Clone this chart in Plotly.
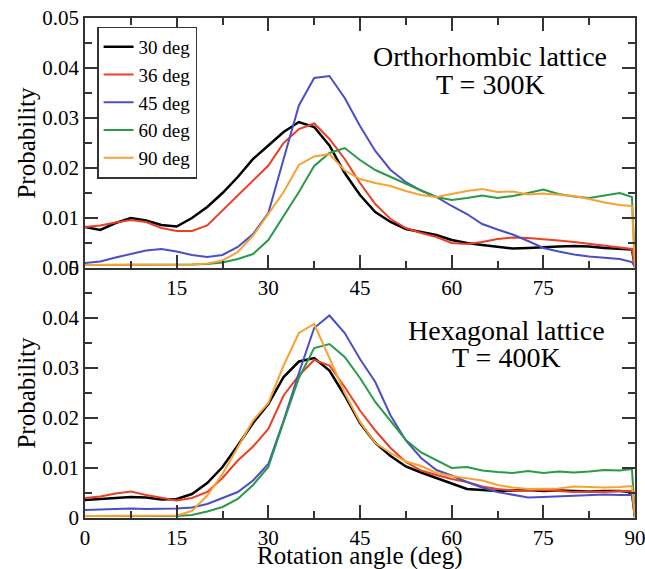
import plotly.graph_objects as go

# ---------------- data ----------------
angle = [0, 2.5, 5, 7.5, 10, 12.5, 15, 17.5, 20, 22.5, 25, 27.5, 30, 32.5, 35, 37.5,
         40, 42.5, 45, 47.5, 50, 52.5, 55, 57.5, 60, 62.5, 65, 67.5, 70, 72.5, 75,
         77.5, 80, 82.5, 85, 87.5, 89.5, 90]

series_names = ["30 deg", "36 deg", "45 deg", "60 deg", "90 deg"]

# Orthorhombic lattice, T = 300K
ortho_30 = [0.0082, 0.0076, 0.0090, 0.0100, 0.0095, 0.0086, 0.0083, 0.0100, 0.0122, 0.0150,
            0.0182, 0.0218, 0.0245, 0.0272, 0.0292, 0.0282, 0.0245, 0.0190, 0.0146, 0.0112,
            0.0092, 0.0078, 0.0072, 0.0066, 0.0056, 0.0050, 0.0046, 0.0042, 0.0039, 0.0040,
            0.0042, 0.0043, 0.0044, 0.0043, 0.0040, 0.0038, 0.0037, 0.0002]
ortho_36 = [0.0082, 0.0085, 0.0091, 0.0096, 0.0092, 0.0080, 0.0074, 0.0074, 0.0085, 0.0115,
            0.0146, 0.0176, 0.0205, 0.0250, 0.0278, 0.0289, 0.0258, 0.0218, 0.0170, 0.0128,
            0.0098, 0.0080, 0.0070, 0.0062, 0.0050, 0.0048, 0.0052, 0.0058, 0.0061, 0.0060,
            0.0058, 0.0055, 0.0052, 0.0048, 0.0044, 0.0040, 0.0038, 0.0002]
ortho_45 = [0.0010, 0.0013, 0.0021, 0.0028, 0.0035, 0.0038, 0.0033, 0.0026, 0.0022, 0.0026,
            0.0042, 0.0068, 0.0110, 0.0218, 0.0325, 0.0380, 0.0384, 0.0340, 0.0284, 0.0234,
            0.0196, 0.0172, 0.0155, 0.0142, 0.0124, 0.0108, 0.0088, 0.0077, 0.0067, 0.0054,
            0.0040, 0.0033, 0.0027, 0.0023, 0.0021, 0.0018, 0.0012, 0.0002]
ortho_60 = [0.0006, 0.0006, 0.0006, 0.0006, 0.0006, 0.0006, 0.0006, 0.0007, 0.0008, 0.0011,
            0.0018, 0.0028, 0.0056, 0.0105, 0.0152, 0.0204, 0.0230, 0.0240, 0.0216, 0.0196,
            0.0182, 0.0168, 0.0155, 0.0142, 0.0136, 0.0140, 0.0145, 0.0140, 0.0144, 0.0150,
            0.0157, 0.0148, 0.0143, 0.0140, 0.0145, 0.0150, 0.0142, 0.0002]
ortho_90 = [0.0006, 0.0006, 0.0006, 0.0006, 0.0006, 0.0006, 0.0006, 0.0007, 0.0009, 0.0015,
            0.0032, 0.0065, 0.0108, 0.0152, 0.0206, 0.0223, 0.0228, 0.0195, 0.0178, 0.0170,
            0.0164, 0.0154, 0.0146, 0.0142, 0.0148, 0.0154, 0.0158, 0.0152, 0.0153, 0.0147,
            0.0149, 0.0146, 0.0144, 0.0138, 0.0131, 0.0126, 0.0124, 0.0002]

# Hexagonal lattice, T = 400K
hexa_30 = [0.0036, 0.0038, 0.0041, 0.0042, 0.0041, 0.0037, 0.0038, 0.0048, 0.0070, 0.0102,
           0.0145, 0.0190, 0.0228, 0.0282, 0.0313, 0.0320, 0.0295, 0.0245, 0.0190, 0.0150,
           0.0124, 0.0103, 0.0091, 0.0080, 0.0068, 0.0058, 0.0056, 0.0054, 0.0055, 0.0056,
           0.0054, 0.0055, 0.0054, 0.0053, 0.0054, 0.0054, 0.0052, 0.0002]
hexa_36 = [0.0040, 0.0043, 0.0049, 0.0053, 0.0046, 0.0040, 0.0035, 0.0040, 0.0052, 0.0080,
           0.0115, 0.0143, 0.0178, 0.0245, 0.0285, 0.0316, 0.0305, 0.0262, 0.0215, 0.0175,
           0.0140, 0.0112, 0.0095, 0.0086, 0.0078, 0.0072, 0.0063, 0.0058, 0.0055, 0.0055,
           0.0056, 0.0054, 0.0052, 0.0053, 0.0052, 0.0054, 0.0054, 0.0002]
hexa_45 = [0.0016, 0.0017, 0.0018, 0.0019, 0.0018, 0.0018, 0.0019, 0.0021, 0.0028, 0.0040,
           0.0052, 0.0075, 0.0108, 0.0195, 0.0290, 0.0380, 0.0405, 0.0370, 0.0318, 0.0272,
           0.0205, 0.0155, 0.0120, 0.0096, 0.0085, 0.0072, 0.0061, 0.0052, 0.0047, 0.0041,
           0.0042, 0.0043, 0.0044, 0.0046, 0.0047, 0.0046, 0.0046, 0.0002]
hexa_60 = [0.0004, 0.0004, 0.0004, 0.0004, 0.0004, 0.0004, 0.0004, 0.0006, 0.0013, 0.0022,
           0.0038, 0.0066, 0.0102, 0.0192, 0.0280, 0.0340, 0.0348, 0.0322, 0.0280, 0.0232,
           0.0194, 0.0156, 0.0131, 0.0116, 0.0100, 0.0102, 0.0095, 0.0092, 0.0090, 0.0094,
           0.0090, 0.0093, 0.0091, 0.0093, 0.0096, 0.0095, 0.0098, 0.0002]
hexa_90 = [0.0004, 0.0004, 0.0004, 0.0004, 0.0004, 0.0004, 0.0005, 0.0014, 0.0045, 0.0088,
           0.0142, 0.0195, 0.0230, 0.0305, 0.0370, 0.0388, 0.0320, 0.0250, 0.0192, 0.0150,
           0.0130, 0.0113, 0.0104, 0.0090, 0.0084, 0.0080, 0.0075, 0.0066, 0.0061, 0.0058,
           0.0058, 0.0059, 0.0063, 0.0062, 0.0061, 0.0062, 0.0064, 0.0002]

colors = ["#000000", "#ec3f24", "#4a4fc6", "#2a9a4a", "#f7a232"]

x_tickvals = [0, 15, 30, 45, 60, 75, 90]
x_ticktext_bottom = ["0", "15", "30", "45", "60", "75", "90"]
x_tickvals_top = [15, 30, 45, 60, 75]
x_ticktext_top = ["15", "30", "45", "60", "75"]
y_tickvals = [0, 0.01, 0.02, 0.03, 0.04, 0.05]
y_ticktext = ["0", "0.01", "0.02", "0.03", "0.04", "0.05"]

# ---------------- figure ----------------
FONT = "Liberation Serif"
fig = go.Figure()

top_sets = [ortho_30, ortho_36, ortho_45, ortho_60, ortho_90]
bot_sets = [hexa_30, hexa_36, hexa_45, hexa_60, hexa_90]

for name, ys, c in zip(series_names, top_sets, colors):
    fig.add_trace(go.Scatter(x=angle, y=ys, mode="lines", name=name,
                             line=dict(color=c, width=2.5 if c == "#000000" else 2),
                             xaxis="x2", yaxis="y2", showlegend=True))
for name, ys, c in zip(series_names, bot_sets, colors):
    fig.add_trace(go.Scatter(x=angle, y=ys, mode="lines", name=name,
                             line=dict(color=c, width=2.5 if c == "#000000" else 2),
                             xaxis="x", yaxis="y", showlegend=False))

axis_line = "#333333"
common_x = dict(range=[0, 90], showline=True, linecolor=axis_line, linewidth=1.5,
                ticks="inside", ticklen=13, tickwidth=1.5,
                tickcolor=axis_line, showgrid=False, zeroline=False,
                ticklabeloverflow="allow",
                tickfont=dict(family=FONT, size=21, color="black"),
                minor=dict(dtick=7.5, tick0=0, ticks="inside", ticklen=7,
                           tickwidth=1.5, tickcolor=axis_line, showgrid=False))
common_y = dict(range=[0, 0.05], showline=True, linecolor=axis_line, linewidth=1.5,
                mirror="ticks", ticks="inside", ticklen=13, tickwidth=1.5,
                tickcolor=axis_line, showgrid=False, zeroline=False,
                tickvals=y_tickvals, ticktext=y_ticktext,
                tickfont=dict(family=FONT, size=21, color="black"),
                minor=dict(dtick=0.005, tick0=0, ticks="inside", ticklen=7,
                           tickwidth=1.5, tickcolor=axis_line, showgrid=False),
                title=dict(text="Probability", font=dict(family=FONT, size=25, color="black"),
                           standoff=0))

fig.update_layout(
    width=645, height=569,
    margin=dict(l=85, r=10, t=18, b=51, autoexpand=False),
    paper_bgcolor="white", plot_bgcolor="white",
    font=dict(family=FONT),
    xaxis=dict(**common_x, domain=[0, 1], anchor="y", mirror=False,
               tickvals=x_tickvals, ticktext=x_ticktext_bottom),
    yaxis=dict(**common_y, domain=[0, 0.5], anchor="x"),
    xaxis2=dict(**common_x, domain=[0, 1], anchor="y2", mirror="ticks",
                tickvals=x_tickvals_top, ticktext=x_ticktext_top),
    yaxis2=dict(**common_y, domain=[0.5, 1], anchor="x2"),
    legend=dict(x=0.022, y=0.983, xanchor="left", yanchor="top",
                bgcolor="white", bordercolor=axis_line, borderwidth=1.5,
                font=dict(family=FONT, size=19, color="black"),
                traceorder="normal", itemwidth=30, tracegroupgap=0),
    showlegend=True,
    annotations=[
        dict(text="Orthorhombic lattice", xref="x2", yref="paper",
             x=66.3, y=0.922, xanchor="center", yanchor="middle", showarrow=False,
             font=dict(family=FONT, size=28, color="black")),
        dict(text="T = 300K", xref="x2", yref="paper",
             x=66.3, y=0.868, xanchor="center", yanchor="middle", showarrow=False,
             font=dict(family=FONT, size=28, color="black")),
        dict(text="Hexagonal lattice", xref="x", yref="paper",
             x=68.9, y=0.376, xanchor="center", yanchor="middle", showarrow=False,
             font=dict(family=FONT, size=28, color="black")),
        dict(text="T = 400K", xref="x", yref="paper",
             x=68.9, y=0.320, xanchor="center", yanchor="middle", showarrow=False,
             font=dict(family=FONT, size=28, color="black")),
        dict(text="Rotation angle (deg)", xref="paper", yref="paper",
             x=0.5, y=0, yshift=-38, xanchor="center", yanchor="middle", showarrow=False,
             font=dict(family=FONT, size=25, color="black")),
    ],
)

fig.write_html("out.html", config={"displayModeBar": False},
               post_script="document.body.style.margin='0px';document.body.style.overflow='hidden';")
